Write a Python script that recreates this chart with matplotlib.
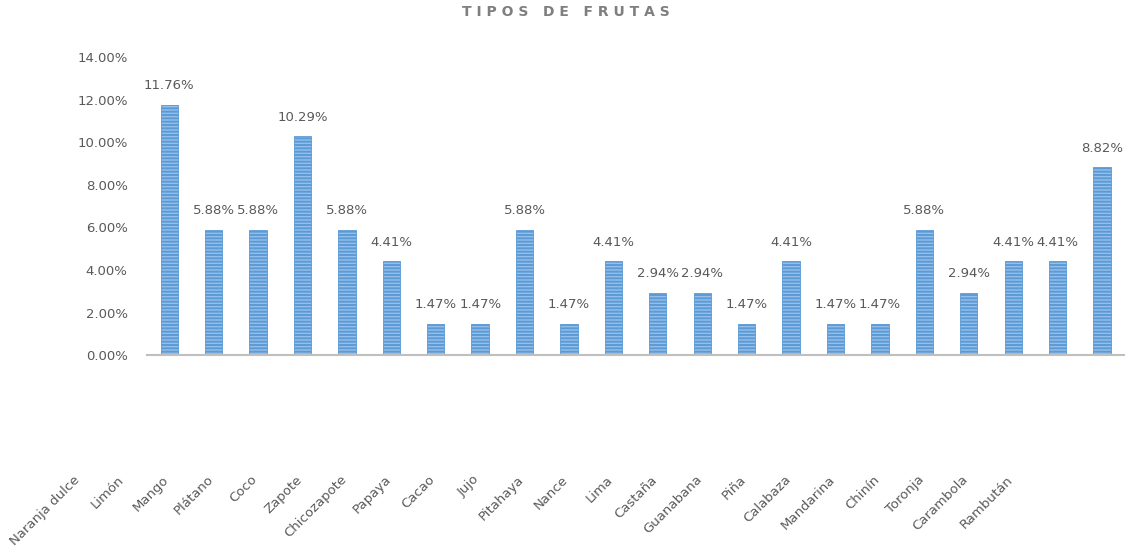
import matplotlib
matplotlib.use('Agg')
import matplotlib.pyplot as plt
from matplotlib.ticker import PercentFormatter
from matplotlib.transforms import ScaledTranslation

plt.rcParams['font.family'] = ['DejaVu Sans']
plt.rcParams['hatch.linewidth'] = 1.4

frutas = ['Naranja dulce', 'Limón', 'Mango', 'Plátano', 'Coco', 'Zapote',
          'Chicozapote', 'Papaya', 'Cacao', 'Jujo', 'Pitahaya', 'Nance',
          'Lima', 'Castaña', 'Guanabana', 'Piña', 'Calabaza', 'Mandarina',
          'Chinín', 'Toronja', 'Carambola', 'Rambután']
porcentajes = [11.76, 5.88, 5.88, 10.29, 5.88, 4.41, 1.47, 1.47, 5.88, 1.47,
               4.41, 2.94, 2.94, 1.47, 4.41, 1.47, 1.47, 5.88, 2.94, 4.41,
               4.41, 8.82]

gris = '#595959'

fig = plt.figure(figsize=(11.31, 5.54), dpi=100)
ax = fig.add_axes([0.130, 0.359, 0.864, 0.538])

x = list(range(len(frutas)))
bars = ax.bar(x, porcentajes, width=0.39, color='#95bfea', edgecolor='#5b9bd5',
              hatch='-----', linewidth=0.6)

for b, v in zip(bars, porcentajes):
    ax.annotate(f'{v:.2f}%', (b.get_x() + b.get_width() / 2, v),
                xytext=(0, 9), textcoords='offset points',
                ha='center', va='bottom', fontsize=9.5, color=gris)

ax.set_xlim(-0.5, len(frutas) - 0.5)
ax.set_ylim(0, 14)
ax.set_yticks([0, 2, 4, 6, 8, 10, 12, 14])
ax.yaxis.set_major_formatter(PercentFormatter(decimals=2))

# etiquetas de categoria corridas a la izquierda y abajo, como en el original
ax.set_xticks([])
shift = ax.get_xaxis_transform() + ScaledTranslation(-0.96, -1.18, fig.dpi_scale_trans)
for i, nombre in zip(x, frutas):
    ax.text(i, 0, nombre, transform=shift, rotation=45, ha='right', va='top',
            rotation_mode='anchor', fontsize=9.5, color=gris, clip_on=False)

ax.tick_params(axis='y', length=0, pad=14, labelsize=9.5, labelcolor=gris)

for s in ['top', 'right', 'left']:
    ax.spines[s].set_visible(False)
ax.spines['bottom'].set_color('#bfbfbf')
ax.spines['bottom'].set_linewidth(1.5)

fig.text(0.5, 0.978, 'T I P O S   D E   F R U T A S', ha='center', va='center',
         fontsize=10, fontweight='bold', color='#7f7f7f')

fig.savefig('out.png', dpi=100)
